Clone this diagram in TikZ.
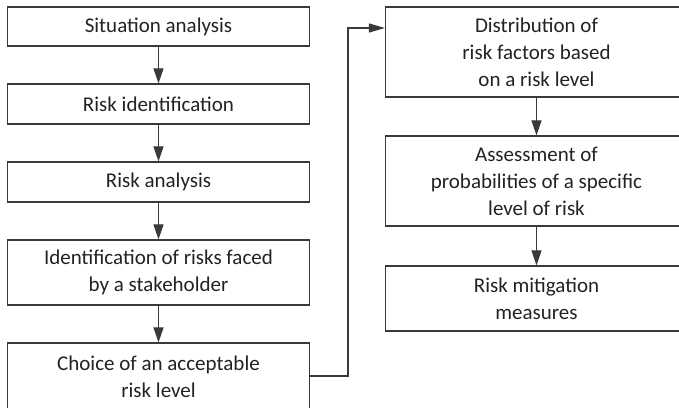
\documentclass[tikz,border=0pt]{standalone}
\usepackage{fontspec}
\setmainfont{Carlito}
\usetikzlibrary{arrows.meta}
\definecolor{edge}{HTML}{3A3A3A}
\definecolor{ink}{HTML}{222222}
\begin{document}
\begin{tikzpicture}[x=1pt,y=-1pt,
  stepbox/.style={draw=edge,line width=1.2pt,minimum width=302pt,inner sep=0pt,
    text=ink,font=\fontsize{21}{27}\selectfont,align=center,anchor=center},
  flow/.style={draw=edge,line width=1.1pt,-{Triangle[length=15pt,width=10pt]}}]
\useasboundingbox (0,0) rectangle (679,407);
\clip (0,0) rectangle (679,407);
% left column
\node[stepbox,minimum height=39pt] (s1) at (158.5,26.5) {Situation analysis};
\node[stepbox,minimum height=40pt] (s2) at (158.5,104) {Risk identification};
\node[stepbox,minimum height=40pt] (s3) at (158.5,182) {Risk analysis};
\node[stepbox,minimum height=65pt] (s4) at (158.5,272.5) {Identification of risks faced\\by a stakeholder};
\node[stepbox,minimum height=68pt] (s5) at (158.5,377) {Choice of an acceptable\\risk level};
% right column
\node[stepbox,minimum height=90pt] (r1) at (536.5,52) {Distribution of\\risk factors based\\on a risk level};
\node[stepbox,minimum height=90pt] (r2) at (536.5,181) {Assessment of\\probabilities of a specific\\level of risk};
\node[stepbox,minimum height=65pt] (r3) at (536.5,298.5) {Risk mitigation\\measures};
% connectors
\draw[flow] (s1) -- (s2);
\draw[flow] (s2) -- (s3);
\draw[flow] (s3) -- (s4);
\draw[flow] (s4) -- (s5);
\draw[flow] (r1) -- (r2);
\draw[flow] (r2) -- (r3);
\coordinate (bendlow) at (348,376);
\coordinate (bendhigh) at (348,28);
\draw[draw=edge,line width=1.1pt,-{Triangle[length=16pt,width=9pt]}]
  (s5.east |- bendlow) -- (bendlow) -- (bendhigh) -- (bendhigh -| r1.west);
\end{tikzpicture}
\end{document}
